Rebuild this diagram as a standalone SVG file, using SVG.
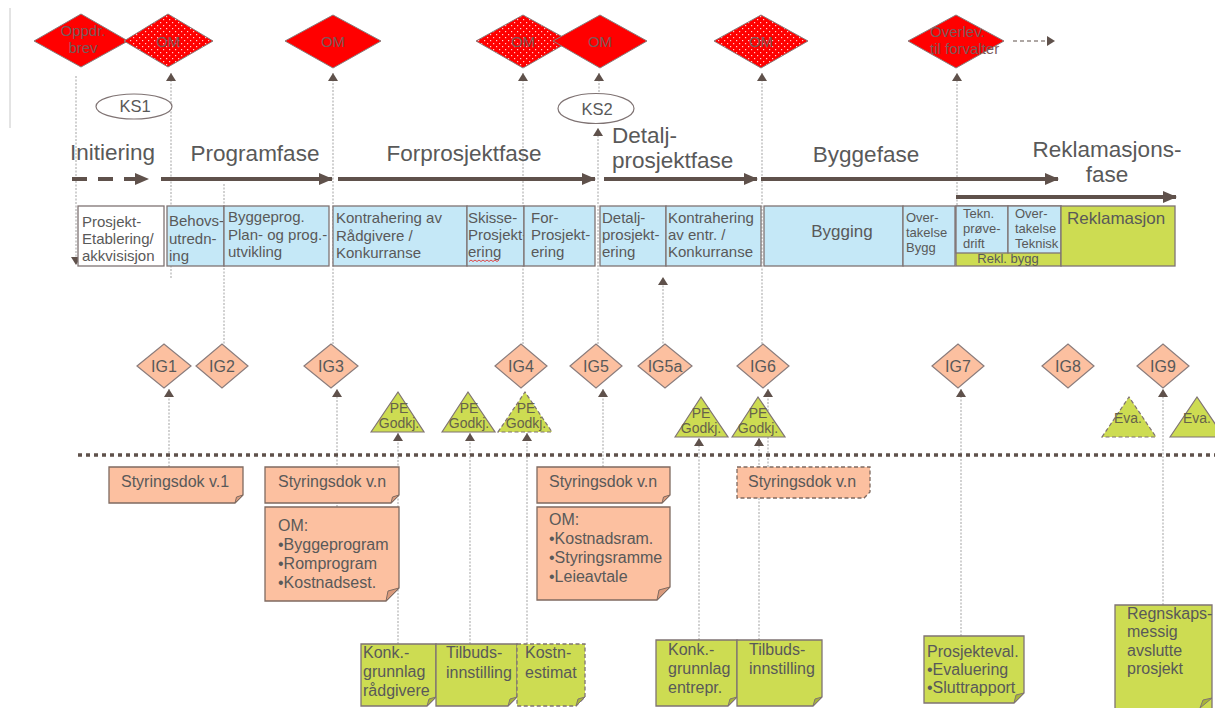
<svg xmlns="http://www.w3.org/2000/svg" width="1215" height="708" viewBox="0 0 1215 708">
<defs>
<style>
text{font-family:"Liberation Sans",Arial,sans-serif;fill:#595959}
.dt{fill:#7a5a5a;font-size:15px}
.ph{font-size:22.5px}
.bx{font-size:15px}
.sm{font-size:13px}
.ig{font-size:16px}
.pe{font-size:14px;fill:#66624a}
.nt{font-size:16px}
.dl{fill:none;stroke:#a3a3a3;stroke-width:1;stroke-dasharray:2 1.5}
.blue{fill:#c5e8f7;stroke:#7f7373;stroke-width:1.3}
.grn{fill:#cddc52;stroke:#7f7373;stroke-width:1.3}
.red{fill:#ff0000;stroke:#8a7c7c;stroke-width:1}
.igd{fill:#fcc0a0;stroke:#8a7c7c;stroke-width:1.2}
.tri{fill:#cddc52;stroke:#7f7373;stroke-width:1.2}
.pch{fill:#fcc0a0;stroke:#7f6a60;stroke-width:1.3}
.fold{fill:#d99a7c;stroke:#7f6a60;stroke-width:1}
.gfold{fill:#a7b43a;stroke:#7f7373;stroke-width:1}
.dash{stroke-dasharray:4 2.5}
.pa{fill:none;stroke:#5f514b;stroke-width:4}
</style>
<pattern id="dots" width="6" height="6" patternUnits="userSpaceOnUse">
<rect width="6" height="6" fill="#ff0000"/>
<rect x="1" y="1" width="1.2" height="1.2" fill="#ffd0d0"/>
<rect x="4" y="4" width="1.2" height="1.2" fill="#ffd0d0"/>
</pattern>
<marker id="ah" viewBox="0 0 8 10" refX="8" refY="5" markerWidth="8" markerHeight="10" markerUnits="userSpaceOnUse" orient="auto">
<path d="M0,0 L8,5 L0,10 Z" fill="#5f514b"/>
</marker>
<marker id="big" viewBox="0 0 14 12" refX="13" refY="6" markerWidth="14" markerHeight="12" markerUnits="userSpaceOnUse" orient="auto">
<path d="M0,0 L14,6 L0,12 Z" fill="#5f514b"/>
</marker>
</defs>
<rect width="1215" height="708" fill="#ffffff"/>

<g id="connectors">
<line x1="10" y1="8" x2="10" y2="128" stroke="#c8c8c8" stroke-width="1"/>
<path class="dl" d="M76,76 V265" marker-end="url(#ah)"/>
<path class="dl" d="M171,278 V73" marker-end="url(#ah)"/>
<path class="dl" d="M224,184 V344"/>
<path class="dl" d="M333,344 V73" marker-end="url(#ah)"/>
<path class="dl" d="M523,344 V73" marker-end="url(#ah)"/>
<path class="dl" d="M599,120 V73" marker-end="url(#ah)"/>
<path class="dl" d="M598,344 V128" marker-end="url(#ah)"/>
<path class="dl" d="M762,344 V73" marker-end="url(#ah)"/>
<path class="dl" d="M957,205 V73" marker-end="url(#ah)"/>
<path d="M1013,41 H1055" fill="none" stroke="#5f514b" stroke-width="1.2" stroke-dasharray="4 3" marker-end="url(#ah)"/>
<path class="dl" d="M663,347 V277" marker-end="url(#ah)"/>
<path class="dl" d="M169,467 V389" marker-end="url(#ah)"/>
<path class="dl" d="M337,507 V389" marker-end="url(#ah)"/>
<path class="dl" d="M398,644 V433" marker-end="url(#ah)"/>
<path class="dl" d="M470,644 V433" marker-end="url(#ah)"/>
<path class="dl" d="M527,644 V433" marker-end="url(#ah)"/>
<path class="dl" d="M603,467 V389" marker-end="url(#ah)"/>
<path class="dl" d="M699,640 V438" marker-end="url(#ah)"/>
<path class="dl" d="M759,640 V438" marker-end="url(#ah)"/>
<path d="M755,446 L759,438 L763,446 Z" fill="#5f514b"/>
<path class="dl" d="M768,467 V389" marker-end="url(#ah)"/>
<path class="dl" d="M961,636 V389" marker-end="url(#ah)"/>
<path class="dl" d="M1163,605 V389" marker-end="url(#ah)"/>
<path class="pa" d="M72,179 H148" stroke-dasharray="15 11" marker-end="url(#big)"/>
<path class="pa" d="M161,179 H332" marker-end="url(#big)"/>
<path class="pa" d="M338,179 H595" marker-end="url(#big)"/>
<path class="pa" d="M604,179 H757" marker-end="url(#big)"/>
<path class="pa" d="M761,179 H1058" marker-end="url(#big)"/>
<path class="pa" d="M956,197 H1176" marker-end="url(#big)"/>
<line x1="78" y1="455" x2="1215" y2="455" stroke="#5f514b" stroke-width="3.5" stroke-dasharray="4 4"/>
</g>

<g id="top-milestones">
<g id="m-oppdr"><path class="red" d="M34,41 L81,14 L128,41 L81,67 Z"/><text class="dt" x="83" y="36" text-anchor="middle">Oppdr.</text><text class="dt" x="83" y="53" text-anchor="middle">brev</text></g>
<g id="m-om1"><path class="red" fill="url(#dots)" style="fill:url(#dots)" d="M124,41 L168,14 L213,41 L168,67 Z"/><text class="dt" x="168" y="47" text-anchor="middle">OM</text></g>
<g id="m-om2"><path class="red" d="M285,41 L333,15 L381,41 L333,68 Z"/><text class="dt" x="333" y="47" text-anchor="middle">OM</text></g>
<g id="m-om3"><path class="red" style="fill:url(#dots)" d="M476,41 L523,15 L570,41 L523,68 Z"/><text class="dt" x="523" y="47" text-anchor="middle">OM</text></g>
<g id="m-om4"><path class="red" d="M553,41 L600,15 L647,41 L600,68 Z"/><text class="dt" x="600" y="47" text-anchor="middle">OM</text></g>
<g id="m-om5"><path class="red" style="fill:url(#dots)" d="M714,41 L761,15 L808,41 L761,68 Z"/><text class="dt" x="761" y="47" text-anchor="middle">OM</text></g>
<g id="m-overlev"><path class="red" d="M908,41 L956,15 L1004,41 L956,68 Z"/><text class="dt" x="930" y="37">Overlev.</text><text class="dt" x="930" y="54">til forvalter</text></g>
<g id="ks1"><ellipse cx="134" cy="106.5" rx="38" ry="12.5" fill="#ffffff" stroke="#7f7373" stroke-width="1.2"/><text x="135" y="112" font-size="16.5" text-anchor="middle">KS1</text></g>
<g id="ks2"><ellipse cx="596" cy="108.5" rx="38" ry="15" fill="#ffffff" stroke="#7f7373" stroke-width="1.2"/><text x="597" y="115" font-size="16.5" text-anchor="middle">KS2</text></g>
</g>

<g id="phases">
<text class="ph" x="70" y="160">Initiering</text>
<text class="ph" x="255" y="161" text-anchor="middle">Programfase</text>
<text class="ph" x="464" y="161" text-anchor="middle">Forprosjektfase</text>
<text class="ph" x="612" y="143">Detalj-</text>
<text class="ph" x="612" y="168">prosjektfase</text>
<text class="ph" x="866" y="162" text-anchor="middle">Byggefase</text>
<text class="ph" x="1107" y="157" text-anchor="middle">Reklamasjons-</text>
<text class="ph" x="1107" y="182" text-anchor="middle">fase</text>
</g>

<g id="activities">
<g id="a-prosjekt"><rect x="78" y="206" width="86" height="60" fill="#ffffff" stroke="#7f7373" stroke-width="1.3"/><text class="bx" x="82" y="227">Prosjekt-</text><text class="bx" x="82" y="244">Etablering/</text><text class="bx" x="82" y="261">akkvisisjon</text></g>
<g id="a-behov"><rect class="blue" x="167" y="206" width="57" height="60"/><text class="bx" x="169" y="226">Behovs-</text><text class="bx" x="169" y="244">utredn-</text><text class="bx" x="169" y="261">ing</text></g>
<g id="a-byggeprog"><rect class="blue" x="224" y="206" width="105" height="60"/><text class="bx" x="228" y="222">Byggeprog.</text><text class="bx" x="228" y="240">Plan- og prog.-</text><text class="bx" x="228" y="257">utvikling</text></g>
<g id="a-kontr1"><rect class="blue" x="333" y="206" width="134" height="60"/><text class="bx" x="336" y="223">Kontrahering av</text><text class="bx" x="336" y="241">Rådgivere /</text><text class="bx" x="336" y="258">Konkurranse</text></g>
<g id="a-skisse"><rect class="blue" x="467" y="206" width="57" height="60"/><text class="bx" x="468" y="223">Skisse-</text><text class="bx" x="468" y="240">Prosjekt-</text><text class="bx" x="468" y="257">ering</text><path d="M469,261.5 l2,-1.5 l2,1.5 l2,-1.5 l2,1.5 l2,-1.5 l2,1.5 l2,-1.5 l2,1.5 l2,-1.5 l2,1.5 l2,-1.5 l2,1.5 l2,-1.5 l2,1.5 l2,-1.5" fill="none" stroke="#e03030" stroke-width="0.9"/></g>
<g id="a-for"><rect class="blue" x="524" y="206" width="71" height="60"/><text class="bx" x="531" y="223">For-</text><text class="bx" x="531" y="240">Prosjekt-</text><text class="bx" x="531" y="257">ering</text></g>
<g id="a-detalj"><rect class="blue" x="600" y="206" width="66" height="60"/><text class="bx" x="602" y="223">Detalj-</text><text class="bx" x="602" y="240">prosjekt-</text><text class="bx" x="602" y="257">ering</text></g>
<g id="a-kontr2"><rect class="blue" x="666" y="206" width="95" height="60"/><text class="bx" x="668" y="223">Kontrahering</text><text class="bx" x="668" y="240">av entr. /</text><text class="bx" x="668" y="257">Konkurranse</text></g>
<g id="a-bygging"><rect class="blue" x="764" y="206" width="139" height="60"/><text x="842" y="237" font-size="17" text-anchor="middle">Bygging</text></g>
<g id="a-overbygg"><rect class="blue" x="903" y="206" width="52" height="60"/><text class="sm" x="906" y="222">Over-</text><text class="sm" x="906" y="237">takelse</text><text class="sm" x="906" y="252">Bygg</text></g>
<g id="a-rekl-bygg"><rect class="grn" x="956" y="206" width="105" height="60"/><text class="sm" x="1008" y="263" text-anchor="middle">Rekl. bygg</text></g>
<g id="a-tekn"><rect class="blue" x="956" y="206" width="52" height="47"/><text class="sm" x="963" y="218">Tekn.</text><text class="sm" x="963" y="233">prøve-</text><text class="sm" x="963" y="248">drift</text></g>
<g id="a-overtekn"><rect class="blue" x="1008" y="206" width="53" height="47"/><text class="sm" x="1015" y="218">Over-</text><text class="sm" x="1015" y="233">takelse</text><text class="sm" x="1015" y="248">Teknisk</text></g>
<g id="a-reklamasjon"><rect class="grn" x="1061" y="206" width="114" height="60"/><text x="1067" y="224" font-size="17">Reklamasjon</text></g>
</g>

<g id="gates">
<g id="ig1"><path class="igd" d="M137,366 L164,344 L191,366 L164,388 Z"/><text class="ig" x="164" y="372" text-anchor="middle">IG1</text></g>
<g id="ig2"><path class="igd" d="M196,366 L222,344 L248,366 L222,388 Z"/><text class="ig" x="222" y="372" text-anchor="middle">IG2</text></g>
<g id="ig3"><path class="igd" d="M304,366 L331,344 L358,366 L331,388 Z"/><text class="ig" x="331" y="372" text-anchor="middle">IG3</text></g>
<g id="ig4"><path class="igd" d="M495,366 L521,344 L547,366 L521,388 Z"/><text class="ig" x="521" y="372" text-anchor="middle">IG4</text></g>
<g id="ig5"><path class="igd" d="M570,366 L596,344 L622,366 L596,388 Z"/><text class="ig" x="596" y="372" text-anchor="middle">IG5</text></g>
<g id="ig5a"><path class="igd" d="M638,366 L665,344 L692,366 L665,388 Z"/><text class="ig" x="665" y="372" text-anchor="middle">IG5a</text></g>
<g id="ig6"><path class="igd" d="M737,366 L763,344 L789,366 L763,388 Z"/><text class="ig" x="763" y="372" text-anchor="middle">IG6</text></g>
<g id="ig7"><path class="igd" d="M932,366 L958,344 L984,366 L958,388 Z"/><text class="ig" x="958" y="372" text-anchor="middle">IG7</text></g>
<g id="ig8"><path class="igd" d="M1042,366 L1068,344 L1094,366 L1068,388 Z"/><text class="ig" x="1068" y="372" text-anchor="middle">IG8</text></g>
<g id="ig9"><path class="igd" d="M1137,366 L1163,344 L1189,366 L1163,388 Z"/><text class="ig" x="1163" y="372" text-anchor="middle">IG9</text></g>
</g>

<g id="approvals">
<g id="pe1"><path class="tri" d="M371,432 L398,392 L424,432 Z"/><text class="pe" x="399" y="413" text-anchor="middle">PE</text><text class="pe" x="399" y="428" text-anchor="middle">Godkj.</text></g>
<g id="pe2"><path class="tri" d="M442,432 L468,392 L495,432 Z"/><text class="pe" x="469" y="413" text-anchor="middle">PE</text><text class="pe" x="469" y="428" text-anchor="middle">Godkj.</text></g>
<g id="pe3"><path class="tri dash" d="M498,432 L525,392 L552,432 Z"/><text class="pe" x="526" y="413" text-anchor="middle">PE</text><text class="pe" x="526" y="428" text-anchor="middle">Godkj.</text></g>
<g id="pe4"><path class="tri" d="M675,437 L701,397 L728,437 Z"/><text class="pe" x="701" y="418" text-anchor="middle">PE</text><text class="pe" x="701" y="433" text-anchor="middle">Godkj.</text></g>
<g id="pe5"><path class="tri" d="M732,437 L758,397 L785,437 Z"/><text class="pe" x="758" y="418" text-anchor="middle">PE</text><text class="pe" x="758" y="433" text-anchor="middle">Godkj.</text></g>
<g id="eva1"><path class="tri dash" d="M1102,437 L1129,397 L1156,437 Z"/><text class="pe" x="1128" y="423" text-anchor="middle">Eva.</text></g>
<g id="eva2"><path class="tri" d="M1170,437 L1197,397 L1224,437 Z"/><text class="pe" x="1197" y="423" text-anchor="middle">Eva.</text></g>
</g>

<g id="documents">
<g id="d-styr1"><path class="pch" d="M109,467 H243 V495 L235,503 H109 Z"/><path class="fold" d="M235,503 L243,495 L236.5,497 Z"/><text class="nt" x="121" y="487">Styringsdok v.1</text></g>
<g id="d-styr2"><path class="pch" d="M265,467 H399 V495 L391,503 H265 Z"/><path class="fold" d="M391,503 L399,495 L392.5,497 Z"/><text class="nt" x="278" y="487">Styringsdok v.n</text></g>
<g id="d-om1"><path class="pch" d="M265,507 H399 V588 L386,601 H265 Z"/><path class="fold" d="M386,601 L399,588 L388,591 Z"/><text class="nt" x="278" y="531">OM:</text><text class="nt" x="278" y="550">•Byggeprogram</text><text class="nt" x="278" y="569">•Romprogram</text><text class="nt" x="278" y="588">•Kostnadsest.</text></g>
<g id="d-styr3"><path class="pch" d="M537,467 H670 V495 L662,503 H537 Z"/><path class="fold" d="M662,503 L670,495 L663.5,497 Z"/><text class="nt" x="549" y="487">Styringsdok v.n</text></g>
<g id="d-om2"><path class="pch" d="M537,507 H670 V587 L657,600 H537 Z"/><path class="fold" d="M657,600 L670,587 L659,590 Z"/><text class="nt" x="549" y="525">OM:</text><text class="nt" x="549" y="544">•Kostnadsram.</text><text class="nt" x="549" y="563">•Styringsramme</text><text class="nt" x="549" y="582">•Leieavtale</text></g>
<g id="d-styr4"><path class="pch dash" d="M737,467 H870 V492 L864,498 H737 Z"/><text class="nt" x="748" y="487">Styringsdok v.n</text></g>
<g id="d-konk1"><path class="grn" d="M361,644 H436 V697 L427,706 H361 Z"/><path class="gfold" d="M427,706 L436,697 L429,699 Z"/><text class="nt" x="363" y="658">Konk.-</text><text class="nt" x="363" y="677">grunnlag</text><text class="nt" x="363" y="696">rådgivere</text></g>
<g id="d-tilb1"><path class="grn" d="M436,644 H517 V697 L508,706 H436 Z"/><path class="gfold" d="M508,706 L517,697 L510,699 Z"/><text class="nt" x="446" y="658">Tilbuds-</text><text class="nt" x="446" y="678">innstilling</text></g>
<g id="d-kostn"><path class="grn dash" d="M517,644 H585 V697 L576,706 H517 Z"/><path class="gfold" d="M576,706 L585,697 L578,699 Z"/><text class="nt" x="525" y="658">Kostn-</text><text class="nt" x="525" y="678">estimat</text></g>
<g id="d-konk2"><path class="grn" d="M656,640 H737 V697 L728,706 H656 Z"/><path class="gfold" d="M728,706 L737,697 L730,699 Z"/><text class="nt" x="668" y="655">Konk.-</text><text class="nt" x="668" y="674">grunnlag</text><text class="nt" x="668" y="693">entrepr.</text></g>
<g id="d-tilb2"><path class="grn" d="M737,640 H822 V697 L813,706 H737 Z"/><path class="gfold" d="M813,706 L822,697 L815,699 Z"/><text class="nt" x="749" y="655">Tilbuds-</text><text class="nt" x="749" y="674">innstilling</text></g>
<g id="d-proseval"><path class="grn" d="M924,636 H1024 V693 L1014,703 H924 Z"/><path class="gfold" d="M1014,703 L1024,693 L1016,695 Z"/><text class="nt" x="927" y="657">Prosjekteval.</text><text class="nt" x="927" y="675">•Evaluering</text><text class="nt" x="927" y="693">•Sluttrapport</text></g>
<g id="d-regnskap"><path class="grn" d="M1115,605 H1212 V714 H1115 Z"/><path class="gfold" d="M1200,708 L1212,698 L1203,700 Z"/><text class="nt" x="1127" y="619">Regnskaps-</text><text class="nt" x="1127" y="637">messig</text><text class="nt" x="1127" y="656">avslutte</text><text class="nt" x="1127" y="674">prosjekt</text></g>
</g>
</svg>
